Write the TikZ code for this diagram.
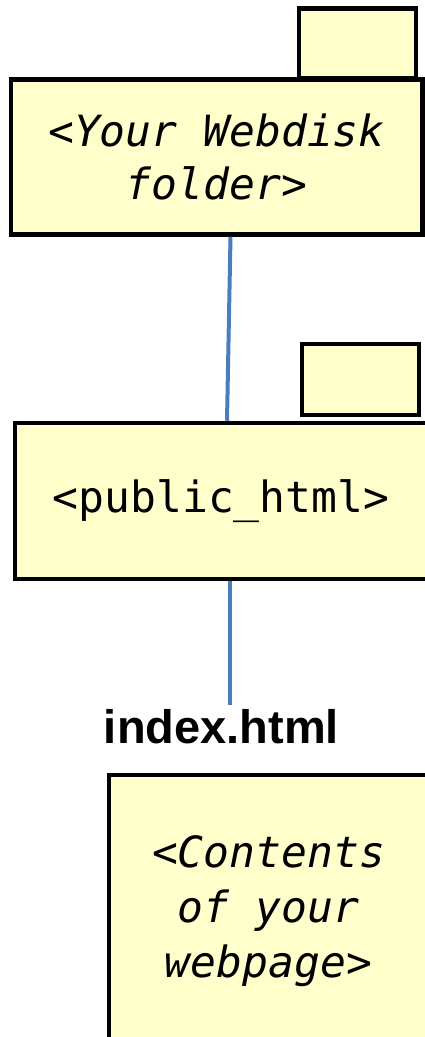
\documentclass[tikz,border=0pt]{standalone}
\usepackage{fontspec}
\setmainfont{Liberation Sans}
\setmonofont{DejaVu Sans Mono}
\usepackage{tikz}
\usetikzlibrary{calc}
\usetikzlibrary{positioning}
\definecolor{folderfill}{HTML}{FFFFCC}
\definecolor{linkblue}{HTML}{4A7EBB}
\tikzset{%
  	% Specifications for style of nodes:
	base/.style = {rectangle, draw=black, line width=4.5pt, fill=folderfill,
				   inner sep=0pt, text centered, align=center},
	folder/.style = {base, minimum width=412pt, minimum height=155pt,
					 font=\ttfamily\fontsize{43}{53}\selectfont},
	foldertab/.style = {base, minimum width=117pt, minimum height=70pt},
	page/.style = {base, minimum width=319pt, minimum height=272pt,
				   font=\ttfamily\itshape\fontsize{43}{55}\selectfont},
	filename/.style = {inner sep=4pt, font=\bfseries\fontsize{47}{56}\selectfont},
	link/.style = {draw=linkblue, line width=4pt},
}
\begin{document}
\begin{tikzpicture}[x=1pt, y=-1pt]
	\useasboundingbox (0,0) rectangle (425,1037);
	\clip (0,0) rectangle (425,1037);

  	% Specification of nodes (position, etc.)

	\node (webdiskTab)	[foldertab] at (357.5,43.5) {};
	\node (webdisk)		[folder, minimum width=411.5pt] at (216.5,157) {\itshape <Your Webdisk\\ \itshape folder>};
	\node (publicTab)	[foldertab, minimum height=71pt] at (360.5,379.5) {};
	\node (publicHtml)	[folder, minimum height=156pt] at (221,501) {<public\_html>};
	\node (indexFile)	[filename, anchor=base] at (221.5,743) {index.html};
	\node (pageBox)		[page] at (268.5,911) {<Contents\\of your\\webpage>};

    % Specification of lines between nodes specified above

	\draw[link]	([xshift=14pt]webdisk.south) -- ([xshift=6pt]publicHtml.north);
	\draw[link]	([xshift=9pt]publicHtml.south) -- ([xshift=8.5pt]indexFile.north);

\end{tikzpicture}
\end{document}
